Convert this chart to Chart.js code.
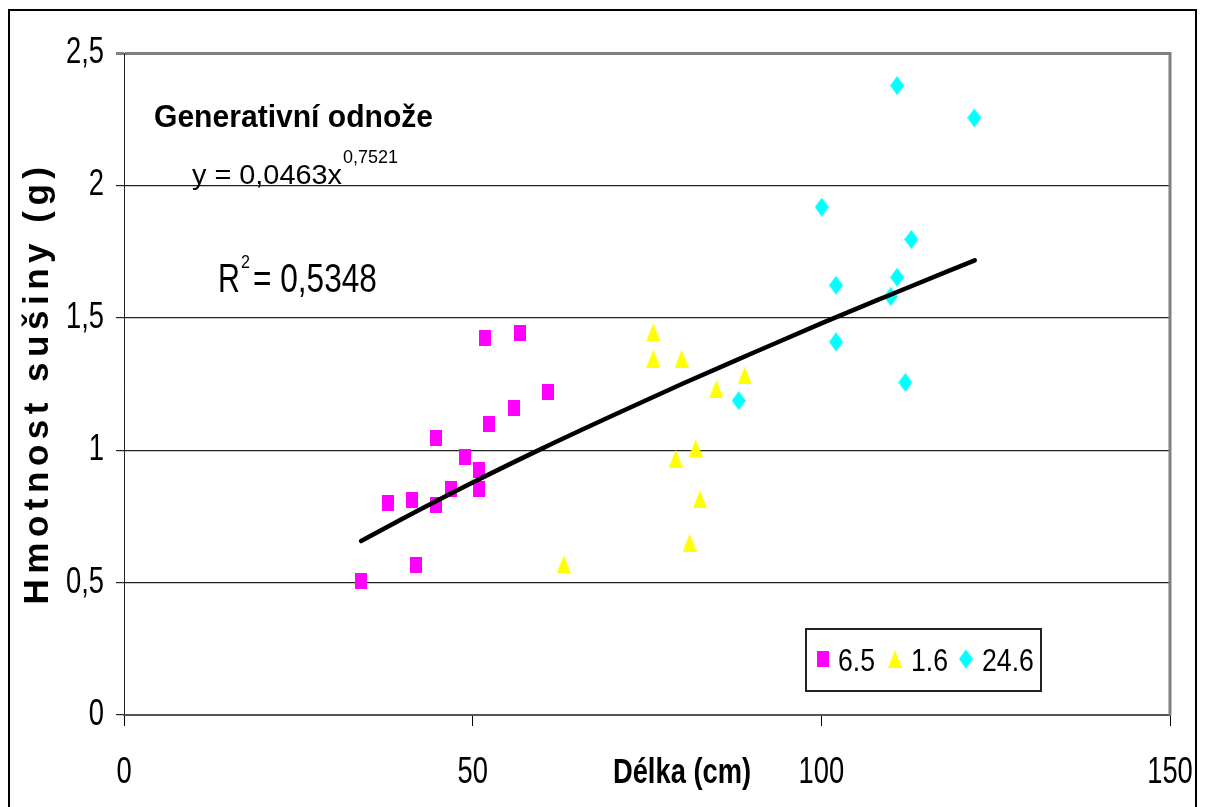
<!DOCTYPE html>
<html>
<head>
<meta charset="utf-8">
<script src="https://cdn.jsdelivr.net/npm/chart.js@4/dist/chart.umd.min.js"></script>
<style>
html,body{margin:0;padding:0;background:#fff;}
canvas{display:block;}
</style>
</head>
<body>
<canvas id="c" width="1207" height="807"></canvas>
<script>
// ---- data ----
const len65  = [34.03, 37.82, 41.30, 41.88, 44.79, 44.79, 46.85, 48.90, 50.91, 50.91, 51.81, 52.34, 55.89, 56.75, 60.81];
const mass65 = [0.506, 0.802, 0.812, 0.566, 1.046, 0.792, 0.852, 0.975, 0.924, 0.852, 1.424, 1.098, 1.158, 1.444, 1.220];

const len16  = [75.91, 75.91, 79.98, 89.01, 84.94, 81.99, 79.12, 82.60, 81.13, 63.06];
const mass16 = [1.446, 1.346, 1.346, 1.283, 1.232, 1.008, 0.968, 0.815, 0.651, 0.570];

const len246  = [110.86, 121.94, 100.06, 112.91, 102.11, 110.86, 109.95, 102.11, 112.05, 88.15];
const mass246 = [2.377, 2.255, 1.918, 1.796, 1.623, 1.653, 1.580, 1.409, 1.256, 1.187];

const trendLen  = [34, 40, 50, 60, 70, 80, 90, 100, 110, 122];
const trendMass = [0.657, 0.742, 0.878, 1.007, 1.130, 1.250, 1.365, 1.479, 1.588, 1.717];

const seriesNames = ['6.5', '1.6', '24.6'];
const xTickValues = [0, 50, 100, 150];
const yTickValues = [0, 0.5, 1, 1.5, 2, 2.5];
const xTickLabels = ['0', '50', '100', '150'];
const yTickLabels = ['0', '0,5', '1', '1,5', '2', '2,5'];

const chartTitle = 'Generativní odnože';
const eqMain = 'y = 0,0463x';
const eqExp = '0,7521';
const r2Main = '= 0,5348';
const xTitle = 'Délka (cm)';
const yTitle = 'Hmotnost sušiny (g)';

// ---- marker images ----
function mk(w, h, color, shape) {
  const c = document.createElement('canvas');
  c.width = w; c.height = h;
  const g = c.getContext('2d');
  g.fillStyle = color;
  g.beginPath();
  if (shape === 'rect') { g.rect(0, 0, w, h); }
  else if (shape === 'tri') { g.moveTo(w / 2, 0); g.lineTo(w, h); g.lineTo(0, h); g.closePath(); }
  else { g.moveTo(w / 2, 0); g.lineTo(w, h / 2); g.lineTo(w / 2, h); g.lineTo(0, h / 2); g.closePath(); }
  g.fill();
  return c;
}
const mSquare = mk(12, 16, '#FF00FF', 'rect');
const mTri = mk(14, 18, '#FFFF00', 'tri');
const mDia = mk(14, 19, '#00FFFF', 'dia');

const zip = (xs, ys) => xs.map((x, i) => ({ x: x, y: ys[i] }));

const SANS = '"Liberation Sans", Arial, sans-serif';

// draw text horizontally compressed by sx
function txt(ctx, s, x, y, font, sx, align, baseline) {
  ctx.save();
  ctx.font = font;
  ctx.textAlign = align || 'left';
  ctx.textBaseline = baseline || 'alphabetic';
  ctx.translate(x, y);
  ctx.scale(sx, 1);
  ctx.fillText(s, 0, 0);
  ctx.restore();
}

const overlay = {
  id: 'overlay',
  afterDraw(chart) {
    const ctx = chart.ctx;
    const a = chart.chartArea;
    const xs = chart.scales.x, ys = chart.scales.y;
    ctx.save();
    // outer frame
    ctx.strokeStyle = '#000';
    ctx.lineWidth = 2;
    ctx.beginPath();
    ctx.moveTo(9, 807); ctx.lineTo(9, 10); ctx.lineTo(1196, 10); ctx.lineTo(1196, 807);
    ctx.stroke();
    // plot right border
    ctx.strokeStyle = '#808080';
    ctx.lineWidth = 3;
    ctx.beginPath();
    ctx.moveTo(a.right, a.top - 1); ctx.lineTo(a.right, a.bottom);
    ctx.stroke();

    ctx.fillStyle = '#000';
    // tick labels (positions from the library's scales)
    const TF = '36px ' + SANS;
    yTickValues.forEach((v, i) => {
      txt(ctx, yTickLabels[i], 104, ys.getPixelForValue(v), TF, 0.76, 'right', 'middle');
    });
    xTickValues.forEach((v, i) => {
      txt(ctx, xTickLabels[i], xs.getPixelForValue(v), 783, TF, 0.76, 'center', 'alphabetic');
    });

    // chart title
    txt(ctx, chartTitle, 154, 127, 'bold 31px ' + SANS, 0.97, 'left');
    // equation
    txt(ctx, eqMain, 192, 184, '28px ' + SANS, 1.03, 'left');
    ctx.font = '28px ' + SANS;
    const w = ctx.measureText(eqMain).width * 1.03;
    txt(ctx, eqExp, 192 + w + 1, 163, '18px ' + SANS, 1.0, 'left');
    // R2
    txt(ctx, 'R', 218, 292, '40px ' + SANS, 0.76, 'left');
    txt(ctx, '2', 241, 268, '19px ' + SANS, 0.85, 'left');
    txt(ctx, r2Main, 253, 292, '40px ' + SANS, 0.79, 'left');

    // x axis title
    txt(ctx, xTitle, 682, 783, 'bold 35px ' + SANS, 0.78, 'center');

    // y axis title
    ctx.save();
    ctx.translate(48, 386);
    ctx.rotate(-Math.PI / 2);
    ctx.font = 'bold 35px ' + SANS;
    try { ctx.letterSpacing = '5.5px'; } catch (e) {}
    ctx.textAlign = 'center';
    ctx.textBaseline = 'alphabetic';
    ctx.fillText(yTitle, 3, 0);
    ctx.restore();

    // legend
    ctx.fillStyle = '#fff';
    ctx.fillRect(806, 629, 235, 62);
    ctx.strokeStyle = '#222';
    ctx.lineWidth = 2;
    ctx.strokeRect(806, 629, 235, 62);
    const imgs = [mSquare, mTri, mDia];
    const ix = [823, 895, 966];
    const tx = [838, 911, 982];
    ctx.fillStyle = '#000';
    for (let i = 0; i < 3; i++) {
      const im = imgs[i];
      ctx.drawImage(im, ix[i] - im.width / 2, 659 - im.height / 2);
      txt(ctx, seriesNames[i], tx[i], 671, '31px ' + SANS, 0.86, 'left', 'alphabetic');
    }
    ctx.restore();
  }
};

new Chart(document.getElementById('c'), {
  type: 'scatter',
  data: {
    datasets: [
      { label: seriesNames[0], data: zip(len65, mass65), pointStyle: mSquare, pointRadius: 8, backgroundColor: '#FF00FF', borderColor: '#FF00FF' },
      { label: seriesNames[1], data: zip(len16, mass16), pointStyle: mTri, pointRadius: 9, backgroundColor: '#FFFF00', borderColor: '#FFFF00' },
      { label: seriesNames[2], data: zip(len246, mass246), pointStyle: mDia, pointRadius: 9, backgroundColor: '#00FFFF', borderColor: '#00FFFF' },
      { label: 'trend', data: zip(trendLen, trendMass), showLine: true, pointRadius: 0, borderColor: '#000', borderWidth: 4.5, cubicInterpolationMode: 'monotone', borderCapStyle: 'round', order: -1 }
    ]
  },
  options: {
    responsive: false,
    animation: false,
    layout: { padding: { left: 0, top: 53, right: 37, bottom: 0 } },
    plugins: { legend: { display: false }, tooltip: { enabled: false } },
    scales: {
      x: {
        type: 'linear', min: 0, max: 150,
        afterBuildTicks: s => { s.ticks = xTickValues.map(v => ({ value: v })); },
        afterFit: s => { s.height = 92; s.paddingLeft = 0; s.paddingRight = 0; },
        grid: { drawOnChartArea: false, drawTicks: true, tickLength: 11, color: '#000', lineWidth: 1 },
        border: { color: '#555', width: 2 },
        ticks: { display: false }
      },
      y: {
        type: 'linear', min: 0, max: 2.5,
        afterBuildTicks: s => { s.ticks = yTickValues.map(v => ({ value: v })); },
        afterFit: s => { s.width = 124; s.paddingTop = 0; s.paddingBottom = 0; },
        grid: {
          drawTicks: true, tickLength: 8,
          color: c => (c.type === 'tick' && c.tick && c.tick.value === 2.5) ? '#808080' : '#222',
          lineWidth: c => (c.tick && c.tick.value === 2.5) ? 3 : 1.2
        },
        border: { color: '#222', width: 1 },
        ticks: { display: false }
      }
    }
  },
  plugins: [overlay]
});
</script>
</body>
</html>
